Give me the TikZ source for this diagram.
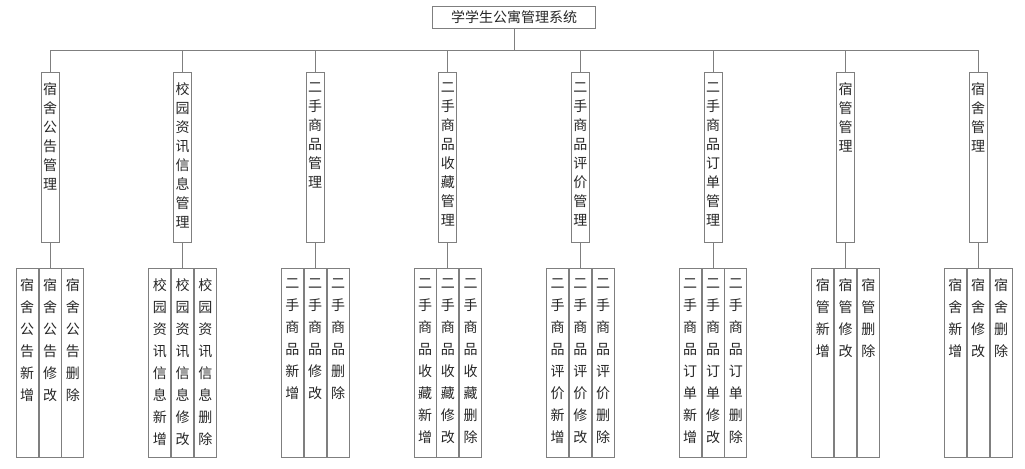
\documentclass[tikz,border=0pt]{standalone}
\usepackage{fontspec}
\setmainfont{Noto Sans CJK SC}
\usetikzlibrary{positioning}
\XeTeXlinebreaklocale "zh"
\XeTeXlinebreakskip=0pt plus 1pt
\definecolor{linegray}{HTML}{7F7F7F}
% vertical text in a fixed box: width, height, line pitch, text
\newcommand{\vstack}[4]{\parbox[c][#2][t]{#1}{\centering\fontsize{10.5}{#3}\selectfont\vspace*{7.5pt}#4\par}}

\begin{document}
\begin{tikzpicture}[x=0.75pt,y=-0.75pt,
    box/.style={draw=linegray, line width=0.6pt, inner sep=0pt, text=black!85},
    wire/.style={draw=linegray, line width=0.6pt}]
    \useasboundingbox (0,0) rectangle (1025,468);
    % root
    \node[box, minimum width=122.25pt, minimum height=16.5pt, font=\fontsize{10.5}{12}\selectfont] (root) at (514.15,17) {学学生公寓管理系统};
    \coordinate (hub) at (514.15,50);
    \draw[wire] (root) -- (hub);
    % modules and their operations
    \foreach \i/\pre/\name in {1/宿舍公告/宿舍公告管理, 2/校园资讯信息/校园资讯信息管理,
        3/二手商品/二手商品管理, 4/二手商品收藏/二手商品收藏管理,
        5/二手商品评价/二手商品评价管理, 6/二手商品订单/二手商品订单管理,
        7/宿管/宿管管理, 8/宿舍/宿舍管理} {
        \pgfmathsetmacro\cx{50+132.6*(\i-1)}
        \node[box, anchor=north] (m\i) at (\cx,72) {\vstack{13.5pt}{127.5pt}{14.25pt}{\name}};
        \node[box, anchor=north] (edit\i) at (\cx,268) {\vstack{16.5pt}{141.75pt}{16.5pt}{\pre 修改}};
        \node[box, left=0pt of edit\i] (add\i) {\vstack{16.5pt}{141.75pt}{16.5pt}{\pre 新增}};
        \node[box, right=0pt of edit\i] (del\i) {\vstack{16.5pt}{141.75pt}{16.5pt}{\pre 删除}};
        \draw[wire] (m\i.north) -- (m\i.north |- hub);
        \draw[wire] (m\i) -- (edit\i);
    }
    % bus line
    \draw[wire] (m1.north |- hub) -- (m8.north |- hub);
\end{tikzpicture}
\end{document}
